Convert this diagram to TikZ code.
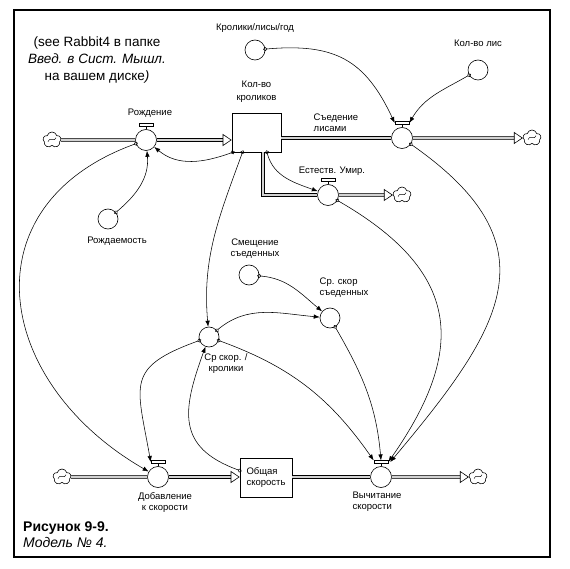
\documentclass[tikz,border=0pt]{standalone}
\usepackage{fontspec}
\setmainfont{Liberation Sans}
\usepackage{tikz}
\usetikzlibrary{arrows.meta,shapes.symbols}

\tikzset{
  aux/.style={circle, draw, line width=0.6pt, minimum size=20pt, inner sep=0pt},
  valve/.style={circle, draw, line width=0.6pt, fill=white, minimum size=21pt, inner sep=0pt},
  handle/.style={rectangle, draw, line width=0.6pt, fill=white, minimum width=14pt, minimum height=2.6pt, inner sep=0pt},
  stock/.style={rectangle, draw, line width=0.6pt, minimum width=49pt, minimum height=39pt, inner sep=2pt},
  sink/.style={cloud, cloud puffs=5, draw, line width=0.6pt, aspect=1.1, minimum width=18pt, minimum height=16pt, inner sep=0pt,
    path picture={\draw[line width=0.45pt] ([shift={(-4pt,-2pt)}]path picture bounding box.center) to[bend left=70] (path picture bounding box.center) to[bend right=70] ([shift={(4pt,2pt)}]path picture bounding box.center);}},
  lbl/.style={font=\fontsize{9.5}{11}\selectfont, align=center, inner sep=0pt},
  pipe/.style={draw, line width=0.6pt, double=gray!35, double distance=2.6pt},
  flow/.style={pipe, -{Triangle[open, length=9pt, width=12pt]}},
  link/.style={line width=0.55pt, {Circle[open, length=4pt, width=4pt]}-{Latex[length=6pt, width=4.5pt]}, shorten <=-2pt}
}

\begin{document}
\begin{tikzpicture}[x=1pt, y=1pt]
\useasboundingbox (0,0) rectangle (570,-569);
\draw[line width=1.8pt] (14,-10) rectangle (550,-557);

%nodes
\node (note)[font=\fontsize{13.5}{17}\selectfont, align=center] at (97,-60)
  {(see Rabbit4 в папке\\ \textit{Введ. в Сист. Мышл.}\\ на вашем диске\textit{)}};
\node (fig)[font=\fontsize{14}{15.5}\selectfont, align=left, anchor=west, inner sep=0pt] at (23,-534.5)
  {\textbf{Рисунок 9-9.}\\ \textit{Модель № 4.}};

\node (rabbits)[stock] at (256.5,-132.5) {};
\node (total)[stock, minimum width=52pt, align=left, font=\fontsize{9.5}{11}\selectfont] at (266,-477.5) {Общая\\скорость};

\node (birth)[valve] at (146,-140) {};
\node (eaten)[valve] at (402,-138) {};
\node (death)[valve] at (328,-195) {};
\node (add)[valve]   at (158,-477) {};
\node (sub)[valve]   at (381,-477) {};

\node (ratio)[aux]     at (255,-50)  {};
\node (foxes)[aux]     at (478,-70)  {};
\node (birthrate)[aux] at (108,-219) {};
\node (shift)[aux]     at (249,-275) {};
\node (avgrab)[aux]    at (209,-337) {};
\node (avgeat)[aux]    at (330,-318) {};

\node (c1)[sink] at (52,-140)  {};
\node (c2)[sink] at (532,-138) {};
\node (c3)[sink] at (402,-195) {};
\node (c4)[sink] at (62,-477)  {};
\node (c5)[sink] at (478,-477) {};

\foreach \v in {birth, eaten, death, add, sub}{
  \node (\v-h)[handle, above of=\v, node distance=15pt] {};
  \draw[line width=0.6pt] (\v.north) -- (\v-h.south);
}

%labels
\node (rabbitsL)[lbl, font=\fontsize{9.5}{12.5}\selectfont, above of=rabbits, node distance=41pt] {Кол-во\\кроликов};
\node (birthL)[lbl, above of=birth, node distance=27pt, xshift=4pt] {Рождение};
\node (eatenL)[lbl, align=left, left of=eaten, node distance=66pt, yshift=15pt] {Съедение\\лисами};
\node (deathL)[lbl, above of=death, node distance=24pt, xshift=4pt] {Естеств. Умир.};
\node (addL)[lbl, below of=add, node distance=25.5pt, xshift=7pt] {Добавление\\к скорости};
\node (subL)[lbl, align=left, below of=sub, node distance=24.5pt, xshift=-4pt] {Вычитание\\скорости};
\node (ratioL)[lbl, above of=ratio, node distance=22pt] {Кролики/лисы/год};
\node (foxesL)[lbl, above of=foxes, node distance=27pt] {Кол-во лис};
\node (birthrateL)[lbl, below of=birthrate, node distance=22pt, xshift=9pt] {Рождаемость};
\node (shiftL)[lbl, above of=shift, node distance=26pt, xshift=6pt] {Смещение\\съеденных};
\node (avgrabL)[lbl, below of=avgrab, node distance=27pt, xshift=17pt] {Ср скор. /\\кролики};
\node (avgeatL)[lbl, align=left, above of=avgeat, node distance=30.5pt, xshift=14pt] {Ср. скор\\съеденных};

%flows
\draw[pipe] (c1) -- (birth);
\draw[flow] (birth) -- (birth -| rabbits.west);
\draw[pipe] (rabbits.east |- eaten) -- (eaten);
\draw[flow] (eaten) -- (c2);
\draw[pipe] ([xshift=6.5pt]rabbits.south) |- (death);
\draw[flow] (death) -- (c3);
\draw[pipe] (c4) -- (add);
\draw[flow] (add) -- (add -| total.west);
\draw[pipe] (total.east |- sub) -- (sub);
\draw[flow] (sub) -- (c5);

%links
\draw[link] ([xshift=1pt]rabbits.south west) to[out=-160, in=-40] (birth);
\draw[link] (birthrate) to[out=40, in=-85] (birth);
\draw[link] (birth) to[out=-160, in=150, looseness=1.4] (add);
\draw[link] ([xshift=-14pt]rabbits.south) to[out=-110, in=95] (avgrab);
\draw[link] ([xshift=10.5pt]rabbits.south) to[out=-75, in=160] (death);
\draw[link] (ratio) to[out=5, in=115, looseness=1.2] (eaten-h.west);
\draw[link] (foxes) to[out=-150, in=60] (eaten-h.east);
\draw[link] (eaten) to[out=-35, in=50, looseness=1.42] ([xshift=2pt]sub-h.east);
\draw[link] (death) to[out=-30, in=55, looseness=1.35] (sub-h.east);
\draw[link] (shift) to[out=-5, in=140] (avgeat);
\draw[link] (avgrab) to[out=40, in=175] (avgeat);
\draw[link] (avgeat) to[out=-60, in=95] (sub-h.north);
\draw[link] (avgrab) to[out=-20, in=125] (sub-h.north west);
\draw[link] (avgrab) to[out=-160, in=100, looseness=1.55] (add-h.west);
\draw[link] ([yshift=7pt]total.west) to[out=160, in=-110, looseness=1.35] (avgrab);
\end{tikzpicture}
\end{document}
